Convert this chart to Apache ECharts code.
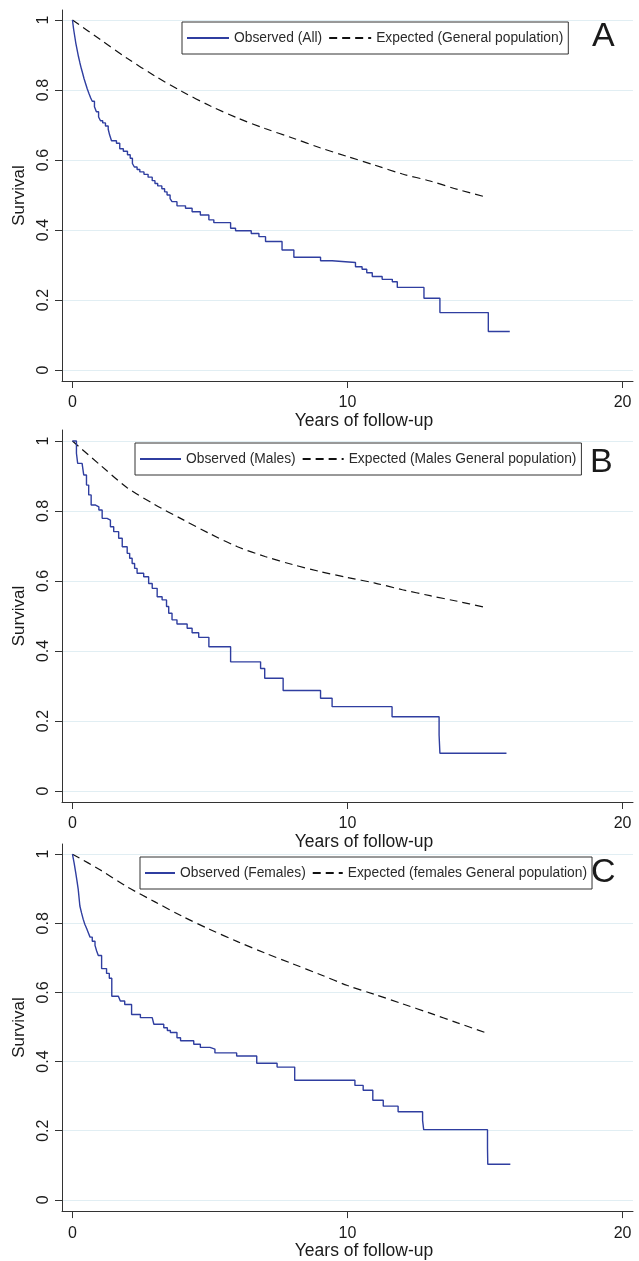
<!DOCTYPE html>
<html><head><meta charset="utf-8">
<script src="https://cdn.jsdelivr.net/npm/echarts@6/dist/echarts.min.js"></script>
<style>html,body{margin:0;padding:0;background:#fff}#c{width:639px;height:1261px}</style>
</head><body><div id="c"></div>
<script>
// ---- data ----
const xTicks = [0, 10, 20];
const yTicks = [0, 0.2, 0.4, 0.6, 0.8, 1];
const panelLetters = ['A', 'B', 'C'];
const obsNames = ['Observed (All)', 'Observed (Males)', 'Observed (Females)'];
const expNames = ['Expected (General population)', 'Expected (Males General population)', 'Expected (females General population)'];
const xTitle = 'Years of follow-up';
const yTitle = 'Survival';

const obsA = [[0,1],[0.04,0.975],[0.08,0.955],[0.12,0.935],[0.17,0.915],[0.22,0.895],[0.27,0.878],[0.32,0.862],[0.37,0.848],[0.42,0.833],[0.48,0.818],[0.54,0.803],[0.6,0.79],[0.66,0.778],[0.72,0.768],[0.8,0.752],[0.87,0.738],[0.95,0.723],[1.02,0.712],[1.1,0.706],[1.2,0.697],[1.3,0.688],[1.35,0.672],[1.42,0.655],[1.6,0.648],[1.72,0.632],[1.85,0.625],[2.0,0.615],[2.1,0.605],[2.18,0.59],[2.25,0.58],[2.35,0.573],[2.45,0.566],[2.6,0.559],[2.75,0.551],[2.9,0.541],[3.0,0.533],[3.1,0.526],[3.25,0.518],[3.35,0.509],[3.44,0.5],[3.55,0.49],[3.62,0.481],[3.8,0.469],[4.11,0.462],[4.35,0.452],[4.65,0.443],[4.96,0.429],[5.14,0.421],[5.75,0.405],[5.93,0.398],[6.5,0.39],[6.78,0.381],[7.02,0.367],[7.62,0.343],[8.05,0.322],[9.02,0.312],[9.44,0.307],[10.29,0.295],[10.53,0.288],[10.7,0.278],[10.9,0.267],[11.26,0.259],[11.63,0.252],[11.81,0.236],[12.78,0.205],[13.36,0.164],[15.12,0.11],[15.9,0.11]];
const expA = [[0,1],[1,0.945],[2,0.89],[3,0.84],[4,0.795],[5,0.755],[6,0.72],[7,0.69],[8,0.663],[9,0.635],[10,0.61],[11,0.585],[12,0.56],[13,0.54],[14,0.516],[15,0.495]];

const obsB = [[0,1],[0.145,0.965],[0.19,0.936],[0.35,0.931],[0.41,0.903],[0.51,0.874],[0.59,0.846],[0.68,0.817],[0.84,0.812],[0.96,0.803],[1.08,0.779],[1.26,0.774],[1.38,0.755],[1.5,0.741],[1.68,0.722],[1.81,0.698],[1.99,0.679],[2.08,0.665],[2.17,0.65],[2.26,0.636],[2.35,0.622],[2.59,0.612],[2.77,0.593],[2.9,0.579],[3.08,0.555],[3.26,0.546],[3.42,0.527],[3.5,0.508],[3.62,0.489],[3.8,0.477],[4.17,0.465],[4.35,0.452],[4.59,0.439],[4.96,0.412],[5.75,0.369],[6.84,0.35],[6.99,0.322],[7.66,0.287],[9.02,0.265],[9.44,0.241],[11.62,0.212],[13.33,0.16],[13.36,0.108],[15.78,0.108]];
const expB = [[0,1],[1,0.932],[2,0.866],[3,0.818],[4,0.776],[5,0.735],[6,0.698],[7,0.67],[8,0.647],[9,0.627],[10,0.61],[11,0.594],[12,0.575],[13,0.558],[14,0.542],[15,0.525]];

const obsC = [[0,1],[0.06,0.975],[0.12,0.946],[0.17,0.92],[0.21,0.898],[0.27,0.85],[0.33,0.83],[0.39,0.812],[0.45,0.797],[0.52,0.784],[0.58,0.772],[0.64,0.76],[0.72,0.748],[0.82,0.736],[0.88,0.72],[0.94,0.707],[1.06,0.669],[1.24,0.655],[1.34,0.641],[1.43,0.589],[1.67,0.584],[1.74,0.575],[1.9,0.565],[2.15,0.536],[2.47,0.527],[2.9,0.522],[2.96,0.508],[3.32,0.498],[3.45,0.49],[3.56,0.484],[3.8,0.469],[3.93,0.46],[4.41,0.45],[4.65,0.441],[5.0,0.436],[5.18,0.425],[5.97,0.416],[6.7,0.395],[7.44,0.384],[8.08,0.346],[10.27,0.331],[10.57,0.317],[10.92,0.288],[11.3,0.271],[11.84,0.255],[12.73,0.23],[12.77,0.203],[15.09,0.15],[15.1,0.103],[15.92,0.103]];
const expC = [[0,1],[1,0.955],[2,0.905],[3,0.862],[4,0.82],[5,0.782],[6,0.747],[7,0.714],[8,0.683],[9,0.652],[10,0.62],[11,0.594],[12,0.567],[13,0.54],[14,0.512],[15,0.484]];

const observed = [obsA, obsB, obsC];
const expected = [expA, expB, expC];

// ---- layout / style ----
const FONT = '"Liberation Sans", Arial, Helvetica, sans-serif';
const AXIS = '#333';
const OBS_COLOR = '#2f3ea0';
const GRID_COLOR = '#e1eef3';
const grids = [
  {top: 10, height: 371, ymin: -0.0314, ymax: 1.0286},
  {top: 430, height: 372, ymin: -0.0314, ymax: 1.0314},
  {top: 844, height: 372, ymin: -0.0326, ymax: 1.0294}
];
const legendPos = [
  {left: 182, top: 22, itemWidth: 42},
  {left: 135, top: 443, itemWidth: 41},
  {left: 140, top: 857, itemWidth: 30}
];
const letterPos = [
  {left: 592, top: 20},
  {left: 590, top: 446},
  {left: 591, top: 856}
];

const option = {
  animation: false,
  backgroundColor: '#fff',
  textStyle: {fontFamily: FONT},
  title: panelLetters.map((t, i) => ({
    text: t, left: letterPos[i].left, top: letterPos[i].top, padding: 0,
    textStyle: {fontSize: 34, fontWeight: 'normal', color: '#1a1a1a', fontFamily: FONT}
  })),
  legend: panelLetters.map((t, i) => ({
    data: [obsNames[i], expNames[i]],
    left: legendPos[i].left, top: legendPos[i].top,
    orient: 'horizontal',
    itemWidth: legendPos[i].itemWidth, itemHeight: 14, itemGap: 6,
    padding: [9, 5, 9, 4],
    borderColor: '#333', borderWidth: 1,
    selectedMode: false,
    itemStyle: {opacity: 0},
    textStyle: {fontSize: 13.8, color: '#2a2a2a', fontFamily: FONT}
  })),
  grid: grids.map(g => ({left: 62, right: 6, top: g.top, height: g.height, containLabel: false})),
  xAxis: grids.map((g, i) => ({
    type: 'value', gridIndex: i, min: -0.38, max: 20.38,
    name: xTitle, nameLocation: 'middle', nameGap: 28,
    nameTextStyle: {fontSize: 17.5, color: '#1a1a1a', fontFamily: FONT, padding: [0, 0, 0, 33]},
    axisLine: {show: true, onZero: false, lineStyle: {color: AXIS, width: 1}},
    axisTick: {show: true, length: 7, customValues: xTicks, lineStyle: {color: AXIS}},
    axisLabel: {customValues: xTicks, fontSize: 16, color: '#1a1a1a', margin: 14, fontFamily: FONT},
    splitLine: {show: false}
  })),
  yAxis: grids.map((g, i) => ({
    type: 'value', gridIndex: i, min: g.ymin, max: g.ymax,
    name: yTitle, nameLocation: 'middle', nameGap: 24,
    nameTextStyle: {fontSize: 17, color: '#1a1a1a', fontFamily: FONT},
    axisLine: {show: true, onZero: false, lineStyle: {color: AXIS, width: 1}},
    axisTick: {show: true, length: 7, customValues: yTicks, lineStyle: {color: AXIS}},
    axisLabel: {customValues: yTicks, rotate: 90, fontSize: 16, color: '#1a1a1a', margin: 10, fontFamily: FONT},
    splitLine: {show: true, lineStyle: {color: GRID_COLOR, width: 1.2}}
  })),
  series: []
};

for (let i = 0; i < 3; i++) {
  option.series.push({
    name: obsNames[i], type: 'line', xAxisIndex: i, yAxisIndex: i,
    data: observed[i], step: 'end', symbol: 'none',
    lineStyle: {color: OBS_COLOR, width: 1.4}, itemStyle: {color: OBS_COLOR}, z: 3
  });
  option.series.push({
    name: expNames[i], type: 'line', xAxisIndex: i, yAxisIndex: i,
    data: expected[i], smooth: 0.3, symbol: 'none',
    lineStyle: {color: '#111', width: 1.2, type: [8, 5]}, itemStyle: {color: '#111'}, z: 2
  });
}

const chart = echarts.init(document.getElementById('c'), null, {renderer: 'canvas'});
chart.setOption(option);
</script>
</body></html>
